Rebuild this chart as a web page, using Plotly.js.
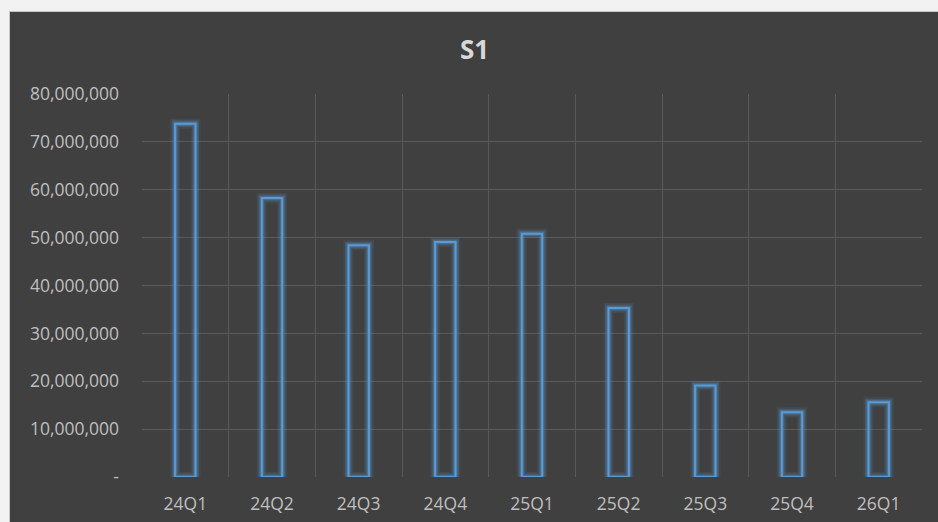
<!DOCTYPE html>
<html>
<head>
<meta charset="utf-8">
<script src="https://cdn.plot.ly/plotly-3.0.1.min.js"></script>
<style>
html,body{margin:0;padding:0;background:#f2f2f2;width:938px;height:522px;overflow:hidden;}
#chart{position:absolute;left:9px;top:11px;width:929px;height:511px;border-top:1px solid #c6c6c6;border-left:1px solid #c6c6c6;box-sizing:border-box;}
</style>
</head>
<body>
<div id="chart"></div>
<script>
const categories = ["24Q1","24Q2","24Q3","24Q4","25Q1","25Q2","25Q3","25Q4","26Q1"];
const values = [73800000, 58300000, 48400000, 49100000, 50800000, 35300000, 19100000, 13500000, 15600000];
const yTickVals = [0, 10000000, 20000000, 30000000, 40000000, 50000000, 60000000, 70000000, 80000000];
const yTickText = ["-", "10,000,000", "20,000,000", "30,000,000", "40,000,000", "50,000,000", "60,000,000", "70,000,000", "80,000,000"];
const chartTitle = "S1";

const blue = "#5b9bd5";
function barTrace(lineColor, lineWidth){
  return {
    type: "bar", x: categories, y: values, width: 0.235,
    marker: {color: "rgba(0,0,0,0)", line: {color: lineColor, width: lineWidth}},
    hoverinfo: "skip", showlegend: false
  };
}
const traces = [
  barTrace("rgba(91,155,213,0.10)", 10),
  barTrace("rgba(91,155,213,0.18)", 7),
  barTrace("rgba(91,155,213,0.30)", 4.5),
  barTrace(blue, 2)
];

const layout = {
  width: 929, height: 511,
  paper_bgcolor: "#404040", plot_bgcolor: "#404040",
  margin: {l: 132, r: 17, t: 82, b: 46},
  barmode: "overlay",
  title: {text: "<b>" + chartTitle + "</b>", x: 0.5, xanchor: "center", y: 0.926, yanchor: "middle",
          font: {family: "Open Sans, Liberation Sans, sans-serif", size: 26, color: "#d9d9d9"}},
  font: {family: "Open Sans, Liberation Sans, sans-serif", color: "#bfbfbf"},
  xaxis: {
    type: "category", tickson: "boundaries", showgrid: true, gridcolor: "#595959", gridwidth: 1,
    ticks: "", tickfont: {size: 17.5, color: "#bfbfbf"}, ticklabelstandoff: 14,
    showline: false, zeroline: false, range: [-0.5, 8.5]
  },
  yaxis: {
    range: [0, 80000000], tickvals: yTickVals, ticktext: yTickText,
    showgrid: true, gridcolor: "#595959", gridwidth: 1, zeroline: false,
    tickfont: {size: 17.5, color: "#bfbfbf"}, ticklabelstandoff: 22, showline: false
  }
};

Plotly.newPlot("chart", traces, layout, {displayModeBar: false, staticPlot: true});
</script>
</body>
</html>
